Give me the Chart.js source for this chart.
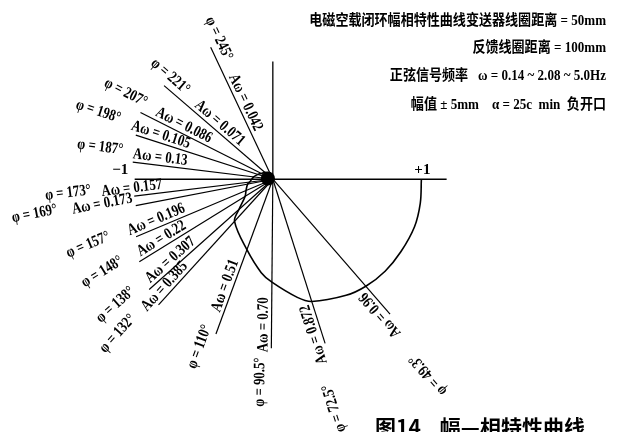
<!DOCTYPE html>
<html>
<head>
<meta charset="utf-8">
<script src="https://cdn.jsdelivr.net/npm/chart.js@4.4.0/dist/chart.umd.min.js"></script>
<style>
html, body { margin: 0; padding: 0; background: #fff; }
#wrap { width: 617px; height: 432px; }
</style>
</head>
<body>
<div id="wrap"><canvas id="nyquist"></canvas></div>
<script>
// phase lag (deg) and amplitude ratio written on each ray
var phases = [49.3, 72.5, 90.5, 110, 132, 138, 148, 157, 169, 173, 187, 198, 207, 221, 245];
var amps   = [0.96, 0.872, 0.70, 0.51, 0.385, 0.307, 0.22, 0.196, 0.173, 0.157, 0.13, 0.105, 0.086, 0.071, 0.042];
var tracedPhase = [0, 9.4, 18.7, 29.8, 39.6, 58, 78.4, 97];
var tracedAmp   = [1, 1.006, 1.007, 0.993, 0.981, 0.931, 0.82, 0.64];

// how long each ray is drawn and where its two labels sit (radius, +1 = 1)
var rayLen = [1.21, 1.17, 1.15, 1.12, 1.15, 1.12, 1.06, 1.00, 0.94, 0.94, 0.95, 0.97, 1.00, 0.97, 0.99];
var phiPos = [1.69, 1.61, 1.38, 1.24, 1.48, 1.36, 1.31, 1.32, 1.62, 1.38, 1.18, 1.26, 1.15, 0.98, 1.02];
var ampPos = [1.17, 1.09, 0.99, 0.79, 1.03, 0.88, 0.85, 0.83, 1.16, 0.95, 0.77, 0.81, 0.70, 0.52, 0.55];

// real axis and upper imaginary axis
var realAxis = [-0.93, 1.17];
var imagAxis = [0, 0.8];

var titleLines = [
  '电磁空载闭环幅相特性曲线变送器线圈距离 = 50mm',
  '反馈线圈距离 = 100mm',
  '正弦信号频率   ω = 0.14 ~ 2.08 ~ 5.0Hz',
  '幅值 ± 5mm    α = 25c  min  负开口'
];
var caption = '图14    幅—相特性曲线';

function toXY(phi, r) {
  var a = phi * Math.PI / 180;
  return { x: r * Math.cos(a), y: -r * Math.sin(a) };
}

// curve points ordered by phase
var pts = [];
for (var i = 0; i < phases.length; i++) pts.push([phases[i], amps[i]]);
for (var m = 0; m < tracedPhase.length; m++) pts.push([tracedPhase[m], tracedAmp[m]]);
pts.sort(function (a, b) { return a[0] - b[0]; });
var curve = pts.map(function (p) { return toXY(p[0], p[1]); });
curve.push({ x: 0, y: 0 });

var datasets = [{
  data: curve,
  showLine: true,
  tension: 0.35,
  borderColor: '#000',
  borderWidth: 1.6,
  pointRadius: 0
}];

for (var j = 0; j < phases.length; j++) {
  datasets.push({
    data: [{ x: 0, y: 0 }, toXY(phases[j], rayLen[j])],
    showLine: true,
    borderColor: '#000',
    borderWidth: 1.2,
    pointRadius: 0
  });
}

datasets.push({
  data: [{ x: realAxis[0], y: 0 }, { x: realAxis[1], y: 0 }],
  showLine: true, borderColor: '#000', borderWidth: 1.3, pointRadius: 0
});
datasets.push({
  data: [{ x: 0, y: imagAxis[0] }, { x: 0, y: imagAxis[1] }],
  showLine: true, borderColor: '#000', borderWidth: 1.3, pointRadius: 0
});
// dark blot where all rays meet
datasets.push({
  data: [{ x: -0.033, y: 0.005 }],
  pointRadius: 7, pointBackgroundColor: '#000', pointBorderWidth: 0
});

function fmtAmp(a) {
  var s = String(a);
  if (s.split('.')[1].length < 2) s = a.toFixed(2);
  return s;
}

var labelPlugin = {
  id: 'rayLabels',
  afterDatasetsDraw: function (chart) {
    var ctx = chart.ctx, xs = chart.scales.x, ys = chart.scales.y;
    var ox = xs.getPixelForValue(0), oy = ys.getPixelForValue(0);

    function put(text, phi, r, off) {
      var p = toXY(phi, r);
      var px = xs.getPixelForValue(p.x), py = ys.getPixelForValue(p.y);
      ctx.save();
      ctx.translate(px, py);
      ctx.rotate(Math.atan2(oy - py, ox - px));
      ctx.scale(0.8, 1);
      ctx.fillText(text, 0, -off);
      ctx.restore();
    }

    ctx.save();
    ctx.fillStyle = '#000';
    ctx.textAlign = 'center';
    ctx.textBaseline = 'middle';
    ctx.font = 'bold 16px "Liberation Serif"';
    for (var k = 0; k < phases.length; k++) {
      put('φ = ' + phases[k] + '°', phases[k], phiPos[k], 11);
      put('Aω = ' + fmtAmp(amps[k]), phases[k], ampPos[k], 8);
    }

    // axis marks
    ctx.font = 'bold 15px "Liberation Serif"';
    ctx.fillText('−1', xs.getPixelForValue(-1) - 4, oy - 9);
    ctx.fillText('+1', xs.getPixelForValue(1) + 1, oy - 9);

    // notes top right (narrowed like the print)
    ctx.textAlign = 'right';
    ctx.textBaseline = 'alphabetic';
    ctx.font = 'bold 15px "Liberation Serif", "Noto Sans CJK SC"';
    var baseY = [25, 52, 80, 109];
    for (var t = 0; t < titleLines.length; t++) {
      ctx.save();
      ctx.translate(606, baseY[t]);
      ctx.scale(0.87, 1);
      ctx.fillText(titleLines[t], 0, 0);
      ctx.restore();
    }

    // caption, cut by the bottom edge
    ctx.textAlign = 'left';
    ctx.font = 'bold 21px "Noto Sans CJK SC"';
    ctx.fillText(caption, 375, 435);
    ctx.restore();
  }
};

new Chart(document.getElementById('nyquist').getContext('2d'), {
  type: 'scatter',
  data: { datasets: datasets },
  options: {
    responsive: true,
    maintainAspectRatio: false,
    animation: false,
    layout: { padding: 0 },
    plugins: { legend: { display: false }, tooltip: { enabled: false } },
    scales: {
      x: { display: false, min: -272 / 152, max: 345 / 152 },
      y: { display: false, min: -254 / 152, max: 178 / 152 }
    }
  },
  plugins: [labelPlugin]
});
</script>
</body>
</html>
